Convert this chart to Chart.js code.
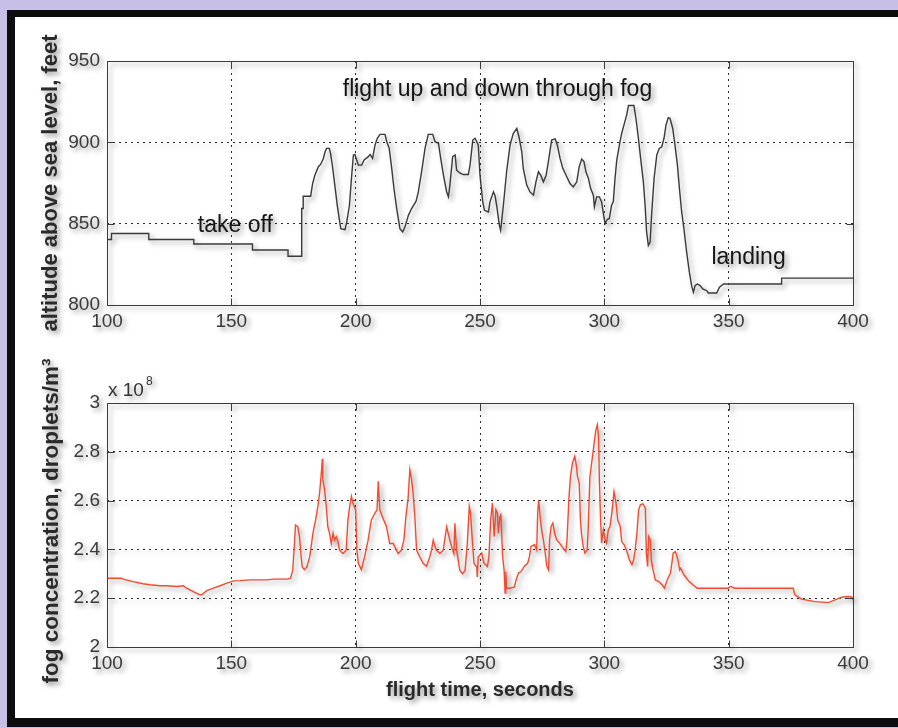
<!DOCTYPE html>
<html>
<head>
<meta charset="utf-8">
<script src="https://cdn.jsdelivr.net/npm/chart.js@4.4.1/dist/chart.umd.min.js"></script>
<style>
  html, body { margin: 0; padding: 0; }
  body { width: 898px; height: 728px; background: #c8bfe6; position: relative; overflow: hidden; }
  #frame {
    position: absolute; left: 7px; top: 10px; width: 900px; height: 717px;
    box-sizing: border-box; background: #fff;
    border-left: 8px solid #0d0d0d; border-top: 7px solid #0d0d0d; border-bottom: 9px solid #0d0d0d;
  }
  canvas { position: absolute; left: 0; filter: drop-shadow(3px 3px 2.5px rgba(0,0,0,0.4)); }
  #altChart { top: 20px; }
  #fogChart { top: 350px; }
</style>
</head>
<body>
<div id="frame"></div>
<canvas id="altChart" width="898" height="330"></canvas>
<canvas id="fogChart" width="898" height="368"></canvas>
<script>
// flight time axis (seconds)
const timeTicks = [100, 150, 200, 250, 300, 350, 400];
const altTicks = [800, 850, 900, 950];
const fogTicks = [2, 2.2, 2.4, 2.6, 2.8, 3];

// altitude above sea level, feet
const altTime = [100, 101.8, 101.8, 116.8, 116.8, 134.9, 134.9, 158.5, 158.5, 172.8, 172.8, 178.3, 178.3, 178.9, 178.9, 181.9,
  182.7, 183.6, 185.0, 185.9, 187.0, 187.7, 188.3, 189.4, 189.9, 190.7, 191.7, 192.6, 193.4, 194.0, 195.7, 196.4,
  197.5, 198.4, 199.1, 199.7, 200.4, 201.1, 202.4, 203.4, 205.1, 205.8, 206.8, 207.8, 208.7, 209.8, 211.8, 212.5,
  213.5, 214.5, 215.4, 216.5, 217.8, 218.9, 219.8, 221.2, 222.5, 224.3, 225.2, 226.5, 227.9, 229.2, 231.0, 231.9,
  233.3, 234.2, 235.3, 236.6, 237.3, 237.9, 239.0, 240.0, 240.6, 241.3, 242.2, 243.3, 245.3, 246.0, 247.1, 248.0,
  249.3, 250.0, 251.1, 251.8, 253.4, 254.0, 255.4, 256.0, 256.7, 257.8, 258.3, 259.4, 260.7, 262.1, 263.4, 264.8,
  265.8, 266.8, 267.4, 268.8, 270.1, 271.5, 272.5, 273.5, 274.4, 275.5, 276.6, 277.5, 278.8, 280.2, 281.1, 282.2,
  283.3, 284.9, 286.2, 287.5, 288.9, 289.9, 290.9, 291.8, 292.6, 293.6, 294.5, 295.6, 296.0, 296.9, 298.0, 298.9,
  299.6, 300.3, 301.2, 302.0, 302.9, 303.6, 304.3, 305.0, 306.3, 307.0, 307.9, 309.0, 309.7, 311.9, 312.7, 313.7,
  314.6, 315.7, 316.4, 317.0, 317.7, 318.4, 319.0, 320.0, 321.1, 322.1, 323.1, 324.0, 324.8, 325.7, 326.4, 327.5,
  328.4, 329.4, 330.2, 331.1, 332.0, 333.1, 334.2, 335.1, 335.8, 336.5, 337.4, 338.5, 339.6, 341.2, 341.8, 345.2,
  346.3, 347.9, 371.3, 371.3, 400];
const altFeet = [840.3, 840.3, 844, 844, 840.3, 840.3, 837.5, 837.5, 833.8, 833.8, 830, 830, 859.3, 859.3, 866.9, 866.9,
  874.7, 879.8, 885.0, 886.4, 890.1, 894.2, 896.3, 896.3, 893.2, 885.0, 872.6, 861.3, 853.1, 846.9, 846.3, 851.0,
  861.3, 879.8, 892.2, 892.6, 889.1, 886.0, 886.0, 889.1, 891.2, 892.6, 890.1, 898.4, 902.5, 904.9, 904.9, 900.4,
  896.3, 884.0, 871.6, 859.3, 846.9, 844.9, 847.9, 855.1, 859.3, 863.8, 869.5, 881.9, 896.3, 904.9, 904.9, 900.4,
  899.4, 890.1, 879.8, 869.5, 866.5, 873.7, 891.2, 892.2, 882.9, 881.9, 880.9, 880.2, 880.2, 886.0, 901.4, 902.5,
  898.4, 879.8, 863.4, 858.2, 857.2, 863.4, 869.5, 867.5, 861.3, 849.0, 845.9, 861.3, 881.9, 898.4, 905.6, 908.6,
  902.5, 894.2, 884.0, 873.7, 869.5, 867.5, 875.7, 881.9, 879.8, 875.7, 879.8, 888.1, 901.4, 902.1, 898.4, 890.1,
  884.0, 878.8, 874.7, 872.6, 875.7, 885.0, 889.7, 888.1, 881.9, 877.8, 871.6, 867.5, 860.3, 866.5, 866.5, 863.4,
  856.2, 850.0, 852.7, 853.1, 861.3, 863.4, 877.8, 889.1, 900.4, 905.6, 910.7, 916.9, 922.6, 922.6, 914.8, 902.5,
  890.1, 875.7, 861.3, 844.9, 836.6, 838.7, 855.1, 877.8, 892.2, 896.3, 897.3, 902.5, 910.7, 915.2, 914.8, 908.6,
  898.4, 886.0, 871.6, 857.2, 846.9, 832.5, 820.2, 811.9, 807.8, 811.9, 812.9, 811.9, 809.9, 808.8, 807.4, 807.4,
  810.9, 812.9, 812.9, 816.5, 816.5];

// fog concentration, x 10^8 droplets/m^3
const fogTime = [100, 105.8, 106.5, 110.5, 114.5, 117.2, 121.3, 124.0, 128.0, 130.7, 132.0, 134.7, 137.4, 138.1, 140.1, 142.8,
  145.5, 148.2, 150.9, 153.6, 157.6, 161.6, 164.3, 167.0, 172.4, 173.8,
  174.7, 175.4, 175.8, 176.7, 177.4, 178.1, 178.5, 179.4, 180.4, 181.5, 182.1, 182.8, 183.9, 184.8, 185.5, 186.2,
  186.6, 186.8, 187.5, 188.2, 188.8, 189.5, 190.2, 190.9, 191.5, 192.2, 192.9, 193.5, 194.9, 196.2, 196.9, 197.6,
  198.3, 198.9, 200.0, 200.5, 201.1, 202.3, 203.6, 205.0, 206.3, 207.7, 208.6, 209.1, 209.7, 211.0, 212.4, 213.7,
  215.1, 216.4, 217.1, 218.4, 219.4, 220.2, 221.1, 221.8, 222.4, 223.1, 223.8, 224.5, 225.8, 227.2, 228.5, 229.8,
  230.5, 231.2, 231.9, 232.5, 233.9, 235.2, 236.6, 237.2, 237.9, 238.6, 239.5, 239.9, 240.6, 241.9, 243.0, 244.0,
  244.9, 245.7, 246.2, 247.0, 247.6, 248.7, 248.9, 249.3,
  250.7, 251.6, 253.0, 253.6, 254.3, 255.0, 255.7, 256.4, 257.0, 257.4, 258.0, 258.4, 259.1, 259.7, 260.1, 260.4,
  260.7, 261.8, 263.8, 264.5, 265.5, 266.5, 267.8, 269.2, 269.9, 270.5, 271.9, 272.8, 273.2, 273.6, 274.3, 275.0,
  275.5, 276.4, 276.9, 277.6, 278.0, 278.6, 279.3, 280.0, 280.9, 282.0, 283.4, 284.5, 285.0, 285.8, 286.4, 287.2,
  288.1, 288.8, 289.2, 289.9, 290.4, 290.8, 291.5, 292.2, 293.1, 293.5, 294.2, 294.9, 295.5, 295.9, 296.6, 297.2,
  297.7, 298.0, 298.5, 298.9, 299.6, 300.3, 300.9, 301.6, 302.3, 303.0, 303.9, 304.7, 305.4, 306.4, 307.0, 308.0,
  309.1, 310.1, 311.1, 311.8, 312.4, 313.1, 313.8, 314.5, 315.5, 316.5, 316.9, 317.4, 317.8, 318.5, 318.9, 319.6,
  320.5, 321.9, 323.2, 324.2, 325.3, 326.6, 327.7, 328.6, 329.6, 330.3, 330.7, 332.0, 334.1, 336.1, 337.4, 344.2,
  349.6, 350.9, 352.3, 375.9, 376.6, 379.3, 384.7, 390.1, 392.8, 395.5, 398.2, 399.6, 400];
const fogConc = [2.282, 2.282, 2.278, 2.268, 2.259, 2.255, 2.251, 2.251, 2.248, 2.251, 2.241, 2.227, 2.214, 2.214, 2.231, 2.241,
  2.251, 2.262, 2.271, 2.272, 2.275, 2.275, 2.275, 2.278, 2.278, 2.282,
  2.314, 2.424, 2.500, 2.493, 2.452, 2.369, 2.328, 2.317, 2.328, 2.369, 2.411, 2.466, 2.521, 2.576, 2.631, 2.713,
  2.771, 2.686, 2.644, 2.576, 2.493, 2.466, 2.424, 2.466, 2.438, 2.452, 2.431, 2.397, 2.383, 2.397, 2.521, 2.576,
  2.617, 2.589, 2.562, 2.397, 2.342, 2.317, 2.369, 2.438, 2.521, 2.548, 2.562, 2.679, 2.562, 2.528, 2.493, 2.424,
  2.424, 2.397, 2.383, 2.397, 2.438, 2.534, 2.610, 2.727, 2.693, 2.631, 2.534, 2.397, 2.369, 2.342, 2.331, 2.369,
  2.397, 2.438, 2.411, 2.397, 2.383, 2.397, 2.493, 2.466, 2.438, 2.411, 2.383, 2.507, 2.397, 2.314, 2.300, 2.314,
  2.424, 2.576, 2.548, 2.424, 2.342, 2.328, 2.287, 2.369,
  2.385, 2.344, 2.330, 2.371, 2.521, 2.590, 2.453, 2.562, 2.549, 2.466, 2.535, 2.542, 2.371, 2.316, 2.221, 2.309,
  2.241, 2.241, 2.245, 2.275, 2.303, 2.309, 2.330, 2.344, 2.371, 2.412, 2.419, 2.398, 2.549, 2.603, 2.521, 2.466,
  2.439, 2.371, 2.330, 2.316, 2.439, 2.494, 2.508, 2.466, 2.439, 2.426, 2.405, 2.391, 2.439, 2.617, 2.699, 2.754,
  2.781, 2.740, 2.699, 2.672, 2.521, 2.466, 2.412, 2.385, 2.398, 2.480, 2.699, 2.754, 2.801, 2.836, 2.890, 2.911,
  2.856, 2.685, 2.521, 2.426, 2.480, 2.439, 2.426, 2.480, 2.494, 2.549, 2.637, 2.590, 2.521, 2.494, 2.432, 2.419,
  2.391, 2.357, 2.337, 2.357, 2.398, 2.466, 2.562, 2.583, 2.587, 2.569, 2.385, 2.330, 2.453, 2.439, 2.357, 2.316,
  2.275, 2.268, 2.255, 2.241, 2.275, 2.303, 2.385, 2.391, 2.357, 2.316, 2.323, 2.296, 2.268, 2.251, 2.241, 2.241,
  2.241, 2.248, 2.241, 2.241, 2.214, 2.196, 2.186, 2.182, 2.193, 2.204, 2.207, 2.204, 2.193];

// text notes on the altitude panel, placed in data units
const noteText = ['take off', 'flight up and down through fog', 'landing'];
const noteTime = [136.5, 194.8, 343.1];
const noteAlt = [849, 932.3, 829.3];

const FONT = '"Liberation Sans", Arial, Helvetica, sans-serif';

function toPoints(xs, ys) {
    return xs.map((x, i) => ({ x: x, y: ys[i] }));
}

// matlab style box: full frame, inward ticks on every side, free text
const matlabBox = {
    id: 'matlabBox',
    afterDraw(chart, args, opts) {
        const { ctx, chartArea: a } = chart;
        const xs = chart.scales.x, ys = chart.scales.y;
        ctx.save();
        ctx.strokeStyle = '#3c3c3c';
        ctx.lineWidth = 1;
        const L = Math.round(a.left) + 0.5, R = Math.round(a.right) + 0.5;
        const T = Math.round(a.top) + 0.5, B = Math.round(a.bottom) + 0.5;
        ctx.strokeRect(L, T, R - L, B - T);
        const len = 7;
        ctx.beginPath();
        xs.ticks.forEach(t => {
            const px = Math.round(xs.getPixelForValue(t.value)) + 0.5;
            ctx.moveTo(px, B); ctx.lineTo(px, B - len);
            ctx.moveTo(px, T); ctx.lineTo(px, T + len);
        });
        ys.ticks.forEach(t => {
            const py = Math.round(ys.getPixelForValue(t.value)) + 0.5;
            ctx.moveTo(L, py); ctx.lineTo(L + len, py);
            ctx.moveTo(R, py); ctx.lineTo(R - len, py);
        });
        ctx.stroke();

        ctx.fillStyle = '#151515';
        ctx.textBaseline = 'middle';
        (opts.notes || []).forEach(n => {
            ctx.font = '23px ' + FONT;
            ctx.textAlign = 'left';
            ctx.fillText(n.text, xs.getPixelForValue(n.t), ys.getPixelForValue(n.v));
        });
        (opts.labels || []).forEach(l => {
            ctx.save();
            ctx.font = l.font + ' ' + FONT;
            ctx.fillStyle = l.color || '#222';
            ctx.textAlign = l.align || 'center';
            ctx.textBaseline = l.baseline || 'middle';
            ctx.translate(l.x, l.y);
            if (l.rotate) ctx.rotate(l.rotate);
            ctx.fillText(l.text, 0, 0);
            ctx.restore();
        });
        ctx.restore();
    }
};

function makeChart(id, data, color, yTicks, yMin, yMax, xHeight, topPad, fmt, labels, notes) {
    return new Chart(document.getElementById(id), {
        type: 'line',
        data: {
            datasets: [{
                data: data,
                borderColor: color,
                borderWidth: 1.4,
                pointRadius: 0,
                tension: 0,
                fill: false
            }]
        },
        options: {
            responsive: false,
            animation: false,
            devicePixelRatio: 1,
            layout: { padding: { left: 0, right: 45, top: topPad, bottom: 0 } },
            plugins: {
                legend: { display: false },
                tooltip: { enabled: false },
                matlabBox: { labels: labels, notes: notes }
            },
            scales: {
                x: {
                    type: 'linear', min: 100, max: 400,
                    afterBuildTicks: s => { s.ticks = timeTicks.map(v => ({ value: v })); },
                    afterFit: s => { s.height = xHeight; },
                    grid: { color: '#2a2a2a', lineWidth: 1, drawTicks: false },
                    border: { display: false, dash: [2, 4] },
                    ticks: { color: '#3a3a3a', padding: 5, font: { family: FONT, size: 19 }, maxRotation: 0, autoSkip: false }
                },
                y: {
                    type: 'linear', min: yMin, max: yMax,
                    afterBuildTicks: s => { s.ticks = yTicks.map(v => ({ value: v })); },
                    afterFit: s => { s.width = 107; },
                    grid: { color: '#2a2a2a', lineWidth: 1, drawTicks: false },
                    border: { display: false, dash: [2, 4] },
                    ticks: { color: '#3a3a3a', padding: 7, font: { family: FONT, size: 19 }, callback: fmt }
                }
            }
        },
        plugins: [matlabBox]
    });
}

const altChart = makeChart('altChart', toPoints(altTime, altFeet), '#3a3a3a', altTicks, 800, 950, 45, 41,
    v => String(v),
    [{ text: 'altitude above sea level, feet', x: 51, y: 163, rotate: -Math.PI / 2, font: 'bold 22px', color: '#2a2a2a' }],
    noteText.map((t, i) => ({ text: t, t: noteTime[i], v: noteAlt[i] })));

const fogChart = makeChart('fogChart', toPoints(fogTime, fogConc), '#ef4d32', fogTicks, 2, 3, 71, 53,
    v => String(+v.toFixed(1)),
    [
        { text: 'fog concentration, droplets/m³', x: 52, y: 171, rotate: -Math.PI / 2, font: 'bold 22.5px', color: '#2a2a2a' },
        { text: 'flight time, seconds', x: 480, y: 340, font: 'bold 20px', color: '#2a2a2a' },
        { text: 'x 10', x: 108, y: 46, align: 'left', baseline: 'alphabetic', font: '19px', color: '#333' },
        { text: '8', x: 146, y: 35, align: 'left', baseline: 'alphabetic', font: '12px', color: '#333' }
    ],
    []);
</script>
</body>
</html>
